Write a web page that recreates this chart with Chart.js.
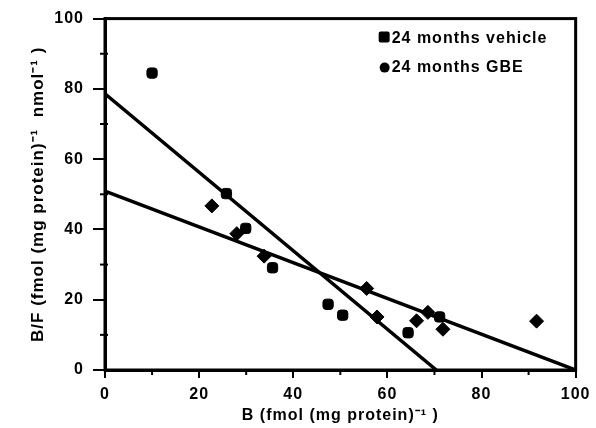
<!DOCTYPE html>
<html>
<head>
<meta charset="utf-8">
<script src="https://cdn.jsdelivr.net/npm/chart.js@4"></script>
<style>
  html, body { margin: 0; padding: 0; background: #fff; }
  #wrap { width: 596px; height: 428px; }
</style>
</head>
<body>
<div id="wrap"><canvas id="scatchard"></canvas></div>
<script>
// values
const vehicleB = [10.0, 25.8, 29.9, 35.6, 47.4, 50.5, 64.4, 71.1];
const vehicleBF = [84.5, 50.2, 40.3, 29.1, 18.7, 15.6, 10.6, 15.1];
const gbeB = [22.7, 28.0, 33.8, 55.6, 57.8, 66.2, 68.6, 71.8, 91.7];
const gbeBF = [46.7, 38.8, 32.4, 23.2, 15.1, 14.0, 16.4, 11.6, 13.9];
// regression lines (end points)
const vehicleFitB = [0, 70.4];
const vehicleFitBF = [78.6, 0];
const gbeFitB = [0, 100];
const gbeFitBF = [50.9, 0];

const majorTicks = [0, 20, 40, 60, 80, 100];
const minorTicks = [10, 30, 50, 70, 90];
const legendLabels = ['24 months vehicle', '24 months GBE'];

const FONT = "'Liberation Sans', Arial, sans-serif";

function pts(xs, ys) {
  return xs.map((x, i) => ({ x: x, y: ys[i] }));
}

// wide lettering like the original print
const spacingPlugin = {
  id: 'spacing',
  beforeDraw(chart) {
    chart.ctx.letterSpacing = '1px';
  }
};

// box frame, minor ticks and in-plot legend
const framePlugin = {
  id: 'frame',
  afterDraw(chart) {
    const ctx = chart.ctx;
    const a = chart.chartArea;
    const xs = chart.scales.x, ys = chart.scales.y;
    ctx.save();
    ctx.strokeStyle = '#000';
    ctx.lineWidth = 3;
    ctx.strokeRect(a.left, a.top, a.right - a.left, a.bottom - a.top);
    ctx.lineWidth = 2;
    minorTicks.forEach(v => {
      const px = xs.getPixelForValue(v);
      ctx.beginPath();
      ctx.moveTo(px, a.bottom);
      ctx.lineTo(px, a.bottom + 5);
      ctx.stroke();
      const py = ys.getPixelForValue(v);
      ctx.beginPath();
      ctx.moveTo(a.left - 5, py);
      ctx.lineTo(a.left + 3, py);
      ctx.stroke();
    });

    // legend
    ctx.fillStyle = '#000';
    ctx.font = 'bold 16px ' + FONT;
    ctx.letterSpacing = '1px';
    ctx.textBaseline = 'middle';
    ctx.textAlign = 'left';
    const lx = a.right - 184;
    const ly1 = a.top + 20;
    const ly2 = a.top + 49;
    ctx.beginPath();
    ctx.roundRect(lx - 13, ly1 - 7, 11, 11, 2);
    ctx.fill();
    ctx.fillText(legendLabels[0], lx, ly1);
    ctx.beginPath();
    ctx.arc(lx - 7, ly2, 5, 0, Math.PI * 2);
    ctx.fill();
    ctx.fillText(legendLabels[1], lx, ly2);
    ctx.restore();
  }
};

new Chart(document.getElementById('scatchard'), {
  type: 'scatter',
  data: {
    datasets: [
      {
        label: legendLabels[0],
        data: pts(vehicleB, vehicleBF),
        pointStyle: 'rectRounded',
        pointRadius: 6,
        backgroundColor: '#000',
        borderColor: '#000',
        borderWidth: 1
      },
      {
        label: legendLabels[1],
        data: pts(gbeB, gbeBF),
        pointStyle: 'rectRot',
        pointRadius: 7,
        backgroundColor: '#000',
        borderColor: '#000',
        borderWidth: 1
      },
      {
        label: 'vehicle fit',
        data: pts(vehicleFitB, vehicleFitBF),
        showLine: true,
        pointRadius: 0,
        borderColor: '#000',
        borderWidth: 3.5,
        fill: false
      },
      {
        label: 'GBE fit',
        data: pts(gbeFitB, gbeFitBF),
        showLine: true,
        pointRadius: 0,
        borderColor: '#000',
        borderWidth: 3.5,
        fill: false
      }
    ]
  },
  options: {
    responsive: true,
    maintainAspectRatio: false,
    animation: false,
    layout: { padding: { top: 18, right: 20, left: 0, bottom: 0 } },
    plugins: {
      legend: { display: false },
      tooltip: { enabled: false }
    },
    scales: {
      x: {
        type: 'linear',
        min: 0,
        max: 100,
        afterBuildTicks: s => { s.ticks = majorTicks.map(v => ({ value: v })); },
        afterFit: s => { s.height = 58; },
        grid: { display: true, drawOnChartArea: false, color: '#000', lineWidth: 2, tickLength: 8 },
        border: { display: true, color: '#000', width: 3 },
        ticks: {
          color: '#000',
          padding: 7,
          maxRotation: 0,
          font: { family: FONT, size: 16, weight: 'bold' }
        },
        title: {
          display: true,
          text: 'B (fmol (mg protein)\u207B\u00B9 )',
          color: '#000',
          padding: { top: 0, bottom: 3 },
          font: { family: FONT, size: 16, weight: 'bold' }
        }
      },
      y: {
        type: 'linear',
        min: 0,
        max: 100,
        afterBuildTicks: s => { s.ticks = majorTicks.map(v => ({ value: v })); },
        afterFit: s => { s.width = 105; },
        grid: { display: true, drawOnChartArea: false, color: '#000', lineWidth: 2, tickLength: 12 },
        border: { display: true, color: '#000', width: 3 },
        ticks: {
          color: '#000',
          padding: 9,
          font: { family: FONT, size: 16, weight: 'bold' }
        },
        title: {
          display: true,
          text: 'B/F (fmol (mg protein)\u207B\u00B9  nmol\u207B\u00B9 )',
          color: '#000',
          padding: { top: 28, bottom: 0 },
          font: { family: FONT, size: 17, weight: 'bold' }
        }
      }
    }
  },
  plugins: [spacingPlugin, framePlugin]
});
</script>
</body>
</html>
